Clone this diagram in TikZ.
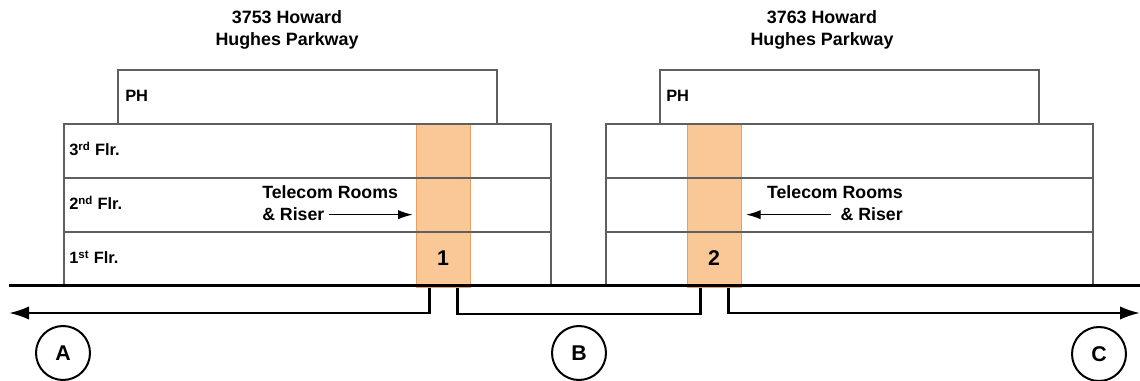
\documentclass[tikz,border=0pt]{standalone}
\usepackage{fontspec}
\setmainfont{Liberation Sans}
\usetikzlibrary{arrows.meta}
\definecolor{riserfill}{RGB}{250,199,150}
\definecolor{riserline}{RGB}{230,160,100}
\definecolor{wallgray}{RGB}{95,95,95}

\begin{document}
\begin{tikzpicture}[x=0.75pt,y=-0.75pt,
  wall/.style={draw=wallgray,line width=0.8pt},
  riser/.style={fill=riserfill,draw=riserline,line width=0.8pt,anchor=north west,
    minimum width=40.5pt,minimum height=122.25pt,inner sep=0pt},
  title/.style={font=\fontsize{13.4}{16.5}\selectfont\bfseries,align=center,inner sep=0pt},
  flr/.style={font=\fontsize{12.3}{14}\selectfont\bfseries,anchor=base west,inner sep=0pt},
  telecom/.style={font=\fontsize{13.3}{15}\selectfont\bfseries,inner sep=0pt},
  num/.style={font=\fontsize{16}{18}\selectfont\bfseries,inner sep=0pt},
  zone/.style={circle,draw,line width=1.5pt,minimum size=40.5pt,inner sep=0pt,
    font=\fontsize{16}{18}\selectfont\bfseries},
  pointer/.style={line width=1pt,-{Latex[length=11pt,width=7pt]}},
  cable/.style={line width=1.8pt},
  tip/.style={-{Latex[length=15pt,width=10pt]}}]

\useasboundingbox (0,0) rectangle (1140,381);

% building 3753
\node[title] (t1) at (287,30) {3753 Howard\\Hughes Parkway};
\draw[wall] (118,70) rectangle (497,124);
\node[riser] (riser1) at (416,124) {};
\draw[wall] (64,124) rectangle (551,286);
\draw[wall] (64,178) -- (551,178);
\draw[wall] (64,232) -- (551,232);
\node[flr] (ph1) at (125,102) {PH};
\node[flr] (f3a) at (69,156) {3\textsuperscript{rd} Flr.};
\node[flr] (f2a) at (69,210) {2\textsuperscript{nd} Flr.};
\node[flr] (f1a) at (69,264) {1\textsuperscript{st} Flr.};
\node[num] (n1) at (443,258) {1};
\node[telecom,anchor=base west] (tr1) at (262,199) {Telecom Rooms};
\node[telecom,anchor=base west] (rs1) at (262,221) {\& Riser};
\draw[pointer,shorten >=2.5pt] ([xshift=3pt]rs1.east) -- (rs1.east -| riser1.west);

% building 3763
\node[title] (t2) at (822,30) {3763 Howard\\Hughes Parkway};
\draw[wall] (660,70) rectangle (1039,124);
\node[riser] (riser2) at (687,124) {};
\draw[wall] (606,124) rectangle (1093,286);
\draw[wall] (606,178) -- (1093,178);
\draw[wall] (606,232) -- (1093,232);
\node[flr] (ph2) at (666,102) {PH};
\node[num] (n2) at (714,258) {2};
\node[telecom,anchor=base east] (tr2) at (903,199) {Telecom Rooms};
\node[telecom,anchor=base east] (rs2) at (903,221) {\& Riser};
\draw[pointer,shorten >=3pt] ([xshift=-7pt]rs2.west) -- (rs2.west -| riser2.east);

% ground and cable
\draw[line width=2.25pt] (9,286) -- (1140,286);
\coordinate (westend) at (9,313);
\coordinate (eastend) at (1140,313);
\draw[cable,tip] ([xshift=-10.5pt]riser1.south) |- (westend);
\draw[cable] ([xshift=10.5pt]riser1.south) -- ++(0,26) -| ([xshift=-10.5pt]riser2.south);
\draw[cable,tip] ([xshift=10.5pt]riser2.south) |- (eastend);

\node[zone] (zA) at (63,353) {A};
\node[zone] (zB) at (579,353) {B};
\node[zone] (zC) at (1099,354) {C};
\end{tikzpicture}
\end{document}
